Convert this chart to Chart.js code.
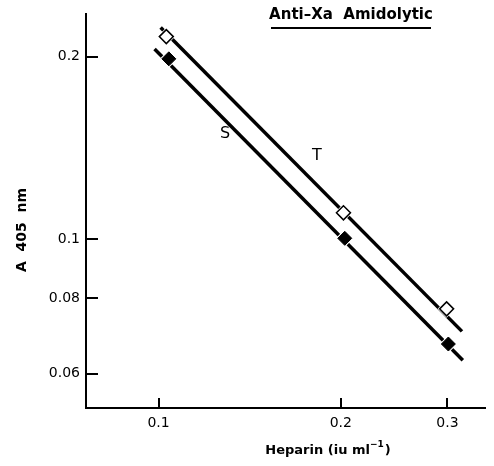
<!DOCTYPE html>
<html>
<head>
<meta charset="utf-8">
<script src="https://cdn.jsdelivr.net/npm/chart.js@4.4.1/dist/chart.umd.min.js"></script>
<style>
  body { margin: 0; background: #fff; }
  canvas { display: block; }
</style>
</head>
<body>
<canvas id="grafico" width="494" height="466"></canvas>
<script>
// valores (escala log-log)
const heparinaT = [0.103, 0.202, 0.299];
const absorbT = [0.216, 0.1106, 0.0768];
const heparinaS = [0.104, 0.203, 0.301];
const absorbS = [0.1985, 0.1004, 0.0672];

// extremos das retas ajustadas
const retaTx = [0.1008, 0.317];
const retaTy = [0.2236, 0.0705];
const retaSx = [0.0985, 0.318];
const retaSy = [0.206, 0.0632];

const xTicks = [0.1, 0.2, 0.3];
const yTicks = [0.06, 0.08, 0.1, 0.2];
const xLimites = [0.0759, 0.346];
const yLimites = [0.0527, 0.235];

const pares = (xs, ys) => xs.map((x, i) => ({ x: x, y: ys[i] }));

const fonte = '"DejaVu Sans", sans-serif';

// marcas de escala para dentro + textos soltos
const extras = {
  id: 'extras',
  afterDraw(chart) {
    const ctx = chart.ctx;
    const area = chart.chartArea;
    const sx = chart.scales.x;
    const sy = chart.scales.y;
    ctx.save();
    ctx.strokeStyle = '#000';
    ctx.lineWidth = 2;
    yTicks.forEach(v => {
      const py = Math.round(sy.getPixelForValue(v));
      ctx.beginPath();
      ctx.moveTo(area.left, py);
      ctx.lineTo(area.left + 12, py);
      ctx.stroke();
    });
    xTicks.forEach(v => {
      const px = Math.round(sx.getPixelForValue(v));
      ctx.beginPath();
      ctx.moveTo(px, area.bottom);
      ctx.lineTo(px, area.bottom - 10);
      ctx.stroke();
    });

    ctx.fillStyle = '#000';
    ctx.textBaseline = 'middle';
    ctx.textAlign = 'center';

    // título sublinhado
    ctx.font = 'bold 15px ' + fonte;
    ctx.fillText('Anti\u2013Xa  Amidolytic', 351, 15);
    ctx.beginPath();
    ctx.moveTo(271, 28);
    ctx.lineTo(431, 28);
    ctx.stroke();

    // rótulos das retas
    ctx.font = '16px ' + fonte;
    ctx.fillText('S', 225, 134);
    ctx.fillText('T', 317, 156);

    // eixo x
    ctx.font = 'bold 13px ' + fonte;
    const base = 'Heparin (iu ml';
    const wBase = ctx.measureText(base).width;
    ctx.font = 'bold 9px ' + fonte;
    const sup = '\u22121';
    const wSup = ctx.measureText(sup).width;
    ctx.font = 'bold 13px ' + fonte;
    const wFim = ctx.measureText(')').width;
    let x0 = 328 - (wBase + wSup + wFim + 1) / 2;
    ctx.textAlign = 'left';
    ctx.fillText(base, x0, 451);
    ctx.font = 'bold 9px ' + fonte;
    ctx.fillText(sup, x0 + wBase, 445);
    ctx.font = 'bold 13px ' + fonte;
    ctx.fillText(')', x0 + wBase + wSup + 1, 451);

    // eixo y
    ctx.font = 'bold 14px ' + fonte;
    ctx.translate(22, 230);
    ctx.rotate(-Math.PI / 2);
    ctx.textAlign = 'center';
    ctx.fillText('A  405  nm', 0, 0);
    ctx.restore();
  }
};

new Chart(document.getElementById('grafico'), {
  type: 'scatter',
  data: {
    datasets: [
      {
        label: 'T reta',
        data: pares(retaTx, retaTy),
        showLine: true,
        borderColor: '#000',
        borderWidth: 3.5,
        pointRadius: 0,
        order: 3
      },
      {
        label: 'S reta',
        data: pares(retaSx, retaSy),
        showLine: true,
        borderColor: '#000',
        borderWidth: 3.5,
        pointRadius: 0,
        order: 3
      },
      {
        label: 'halo T',
        data: pares(heparinaT, absorbT),
        pointStyle: 'rectRot',
        pointRadius: 9,
        backgroundColor: '#fff',
        borderWidth: 0,
        order: 2
      },
      {
        label: 'halo S',
        data: pares(heparinaS, absorbS),
        pointStyle: 'rectRot',
        pointRadius: 9,
        backgroundColor: '#fff',
        borderWidth: 0,
        order: 2
      },
      {
        label: 'T',
        data: pares(heparinaT, absorbT),
        pointStyle: 'rectRot',
        pointRadius: 7,
        backgroundColor: '#fff',
        borderColor: '#000',
        borderWidth: 1.5,
        order: 1
      },
      {
        label: 'S',
        data: pares(heparinaS, absorbS),
        pointStyle: 'rectRot',
        pointRadius: 7,
        backgroundColor: '#000',
        borderColor: '#000',
        borderWidth: 1,
        order: 1
      }
    ]
  },
  options: {
    responsive: false,
    animation: false,
    layout: { padding: { top: 5, right: 4, left: 0, bottom: 0 } },
    plugins: {
      legend: { display: false },
      tooltip: { enabled: false }
    },
    scales: {
      x: {
        type: 'logarithmic',
        min: xLimites[0],
        max: xLimites[1],
        grid: { display: false, drawTicks: false },
        border: { display: true, color: '#000', width: 2 },
        afterBuildTicks: s => { s.ticks = xTicks.map(v => ({ value: v })); },
        afterFit: s => { s.height = 58; },
        ticks: {
          color: '#000',
          padding: 7,
          maxRotation: 0,
          font: { family: fonte, size: 14 },
          callback: v => String(v)
        }
      },
      y: {
        type: 'logarithmic',
        min: yLimites[0],
        max: yLimites[1],
        grid: { display: false, drawTicks: false },
        border: { display: true, color: '#000', width: 2 },
        afterBuildTicks: s => { s.ticks = yTicks.map(v => ({ value: v })); },
        afterFit: s => { s.width = 86; },
        ticks: {
          color: '#000',
          padding: 6,
          font: { family: fonte, size: 14 },
          callback: v => String(v)
        }
      }
    }
  },
  plugins: [extras]
});
</script>
</body>
</html>
